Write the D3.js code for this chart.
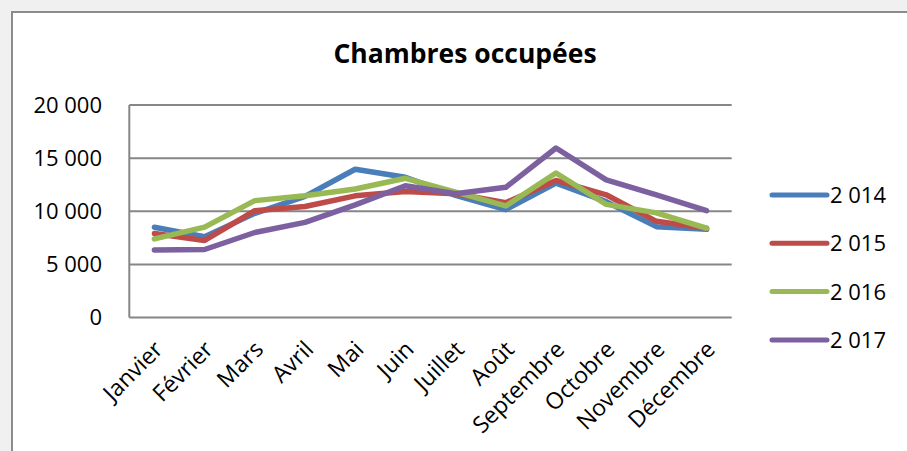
<!DOCTYPE html>
<html>
<head>
<meta charset="utf-8">
<script src="https://cdn.jsdelivr.net/npm/d3@7"></script>
<style>
  body { margin: 0; background: #f0f0f0; }
  text { font-family: "Open Sans", "DejaVu Sans", sans-serif; fill: #000; }
</style>
</head>
<body>
<script>
// chart data
var months = ["Janvier", "Février", "Mars", "Avril", "Mai", "Juin", "Juillet", "Août", "Septembre", "Octobre", "Novembre", "Décembre"];
var years = ["2 014", "2 015", "2 016", "2 017"];
var v2014 = [8500, 7600, 9800, 11400, 13950, 13200, 11500, 10150, 12650, 10900, 8550, 8300];
var v2015 = [7900, 7250, 10050, 10450, 11450, 11850, 11650, 10800, 12900, 11550, 9050, 8400];
var v2016 = [7400, 8500, 11000, 11450, 12100, 13100, 11800, 10500, 13600, 10650, 9850, 8400];
var v2017 = [6350, 6400, 8000, 8950, 10600, 12400, 11650, 12250, 15950, 12950, 11550, 10050];
var yTicks = [0, 5000, 10000, 15000, 20000];
var colors = ["#4a7ebb", "#be4b48", "#98b954", "#7d60a0"];

var series = [v2014, v2015, v2016, v2017];

var w = 907, h = 451;
var svg = d3.select("body")
    .append("svg")
    .attr("width", w)
    .attr("height", h);

// white chart area with grey frame (runs off the right/bottom edge)
svg.append("rect")
    .attr("x", 12)
    .attr("y", 12)
    .attr("width", 920)
    .attr("height", 460)
    .style("fill", "#fff")
    .style("stroke", "#8c8c8c")
    .style("stroke-width", 2);

// title
svg.append("text")
    .attr("x", 465)
    .attr("y", 63)
    .attr("text-anchor", "middle")
    .style("font-size", "26.5px")
    .style("font-weight", "bold")
    .text("Chambres occupées");

var x = d3.scalePoint()
    .domain(months)
    .range([129.3, 731.7])
    .padding(0.5);

var y = d3.scaleLinear()
    .domain([0, 20000])
    .range([317.5, 105]);

var fmt = function(d){
    return d3.format(",")(d).replace(/,/g, " ");
};

// horizontal gridlines
svg.selectAll(".grid")
    .data(yTicks)
    .enter()
    .append("line")
    .attr("class", "grid")
    .attr("x1", 129.3)
    .attr("x2", 731.7)
    .attr("y1", function(d){ return y(d); })
    .attr("y2", function(d){ return y(d); })
    .style("stroke", "#868686")
    .style("stroke-width", 2);

// left axis line
svg.append("line")
    .attr("x1", 129.3)
    .attr("x2", 129.3)
    .attr("y1", y(20000))
    .attr("y2", y(0))
    .style("stroke", "#868686")
    .style("stroke-width", 2);

// y tick labels
svg.selectAll(".ylab")
    .data(yTicks)
    .enter()
    .append("text")
    .attr("class", "ylab")
    .attr("x", 102)
    .attr("y", function(d){ return y(d); })
    .attr("dy", "0.36em")
    .attr("text-anchor", "end")
    .style("font-size", "22px")
    .text(fmt);

// x tick labels, rotated
svg.selectAll(".xlab")
    .data(months)
    .enter()
    .append("text")
    .attr("class", "xlab")
    .attr("text-anchor", "end")
    .attr("transform", function(d){
        return "translate(" + (x(d) + 4) + "," + 345 + ") rotate(-45)";
    })
    .attr("dy", "0.36em")
    .style("font-size", "23px")
    .text(function(d){ return d; });

// lines
var line = d3.line()
    .x(function(d, i){ return x(months[i]); })
    .y(function(d){ return y(d); });

svg.selectAll(".serie")
    .data(series)
    .enter()
    .append("path")
    .attr("class", "serie")
    .attr("d", line)
    .style("fill", "none")
    .style("stroke", function(d, i){ return colors[i]; })
    .style("stroke-width", 5.5)
    .style("stroke-linejoin", "round")
    .style("stroke-linecap", "round");

// legend
var legend = svg.selectAll(".legend")
    .data(years)
    .enter()
    .append("g")
    .attr("class", "legend")
    .attr("transform", function(d, i){
        return "translate(772," + (195 + i * 48.3) + ")";
    });

legend.append("line")
    .attr("x1", 0)
    .attr("x2", 55)
    .style("stroke", function(d, i){ return colors[i]; })
    .style("stroke-width", 5)
    .style("stroke-linecap", "round");

legend.append("text")
    .attr("x", 58)
    .attr("dy", "0.36em")
    .style("font-size", "22px")
    .text(function(d){ return d; });
</script>
</body>
</html>
